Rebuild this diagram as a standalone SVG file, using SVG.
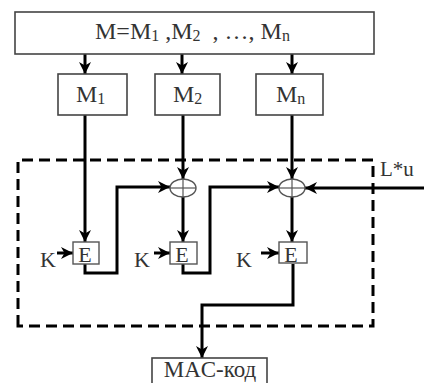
<svg xmlns="http://www.w3.org/2000/svg" width="424" height="383" viewBox="0 0 424 383">
<style>
.box{fill:#fff;stroke:#444;stroke-width:1.6}
.sbox{fill:#fff;stroke:#555;stroke-width:1.4}
.t{font-family:"Liberation Serif",serif;fill:#333}
.ln{fill:none;stroke:#000;stroke-width:3}
.dash{fill:none;stroke:#000;stroke-width:3;stroke-dasharray:11 6}
.xor{fill:#fff;stroke:#555;stroke-width:1.4}
</style>
<defs>
<marker id="ah" viewBox="0 0 12 12" refX="12" refY="6" markerWidth="12" markerHeight="12" orient="auto" markerUnits="userSpaceOnUse">
<path d="M0,0 L12,6 L0,12 L3.5,6 z" fill="#000"/>
</marker>
</defs>
<rect width="424" height="383" fill="#fff"/>
<g id="boundary">
<path class="dash" d="M18,326 L18,160 L373,160 L373,326 Z"/>
</g>
<g id="connectors">
<line class="ln" x1="85" y1="54" x2="85" y2="74" marker-end="url(#ah)"/>
<line class="ln" x1="182" y1="54" x2="182" y2="74" marker-end="url(#ah)"/>
<line class="ln" x1="292" y1="54" x2="292" y2="74" marker-end="url(#ah)"/>
<line class="ln" x1="85" y1="115" x2="85" y2="242" marker-end="url(#ah)"/>
<line class="ln" x1="183" y1="115" x2="183" y2="179" marker-end="url(#ah)"/>
<line class="ln" x1="292" y1="115" x2="292" y2="179" marker-end="url(#ah)"/>
<line class="ln" x1="183" y1="197" x2="183" y2="242" marker-end="url(#ah)"/>
<line class="ln" x1="292" y1="197" x2="292" y2="242" marker-end="url(#ah)"/>
<polyline class="ln" points="85,264 85,273 117,273 117,187 170,187" marker-end="url(#ah)"/>
<polyline class="ln" points="183,264 183,273 210,273 210,187 279,187" marker-end="url(#ah)"/>
<line class="ln" x1="424" y1="188" x2="305" y2="188" marker-end="url(#ah)"/>
<line class="ln" x1="57" y1="253" x2="73" y2="253" marker-end="url(#ah)"/>
<line class="ln" x1="154" y1="253" x2="170" y2="253" marker-end="url(#ah)"/>
<line class="ln" x1="261" y1="253" x2="279" y2="253" marker-end="url(#ah)"/>
<polyline class="ln" points="293,264 293,305 202,305 202,358" marker-end="url(#ah)"/>
</g>
<g id="message">
<rect class="box" x="15" y="12" width="359" height="42"/>
<text class="t" x="95" y="39" font-size="24" xml:space="preserve">M=M<tspan font-size="16" dy="2">1</tspan><tspan dy="-2"> ,M</tspan><tspan font-size="16" dy="2">2</tspan><tspan dy="-2">  , …, M</tspan><tspan font-size="16" dy="2">n</tspan></text>
</g>
<g id="m1">
<rect class="box" x="58" y="74" width="69" height="41"/>
<text class="t" x="76" y="102" font-size="24">M<tspan font-size="16" dy="2">1</tspan></text>
</g>
<g id="m2">
<rect class="box" x="155" y="74" width="65" height="41"/>
<text class="t" x="173" y="102" font-size="24">M<tspan font-size="16" dy="2">2</tspan></text>
</g>
<g id="mn">
<rect class="box" x="256" y="74" width="67" height="41"/>
<text class="t" x="276" y="102" font-size="24">M<tspan font-size="16" dy="2">n</tspan></text>
</g>
<g id="xor1">
<ellipse class="xor" cx="183" cy="188" rx="13" ry="9"/>
<line x1="170" y1="188" x2="196" y2="188" stroke="#555" stroke-width="1.2"/>
<line x1="183" y1="179" x2="183" y2="197" stroke="#555" stroke-width="1.2"/>
</g>
<g id="xor2">
<ellipse class="xor" cx="292" cy="188" rx="13" ry="9"/>
<line x1="279" y1="188" x2="305" y2="188" stroke="#555" stroke-width="1.2"/>
<line x1="292" y1="179" x2="292" y2="197" stroke="#555" stroke-width="1.2"/>
</g>
<g id="e1">
<rect class="sbox" x="73" y="242" width="26" height="22"/>
<text class="t" x="85" y="262" font-size="22" text-anchor="middle">E</text>
<text class="t" x="40" y="267" font-size="22">K</text>
</g>
<g id="e2">
<rect class="sbox" x="170" y="242" width="27" height="22"/>
<text class="t" x="182" y="262" font-size="22" text-anchor="middle">E</text>
<text class="t" x="134" y="267" font-size="22">K</text>
</g>
<g id="e3">
<rect class="sbox" x="279" y="242" width="28" height="21"/>
<text class="t" x="291" y="262" font-size="22" text-anchor="middle">E</text>
<text class="t" x="236" y="267" font-size="22">K</text>
</g>
<g id="lu">
<text class="t" x="380" y="176" font-size="21">L*u</text>
</g>
<g id="mac">
<rect class="box" x="152" y="358" width="115" height="30"/>
<text class="t" x="210" y="377" font-size="23" text-anchor="middle">MAC-код</text>
</g>
</svg>
